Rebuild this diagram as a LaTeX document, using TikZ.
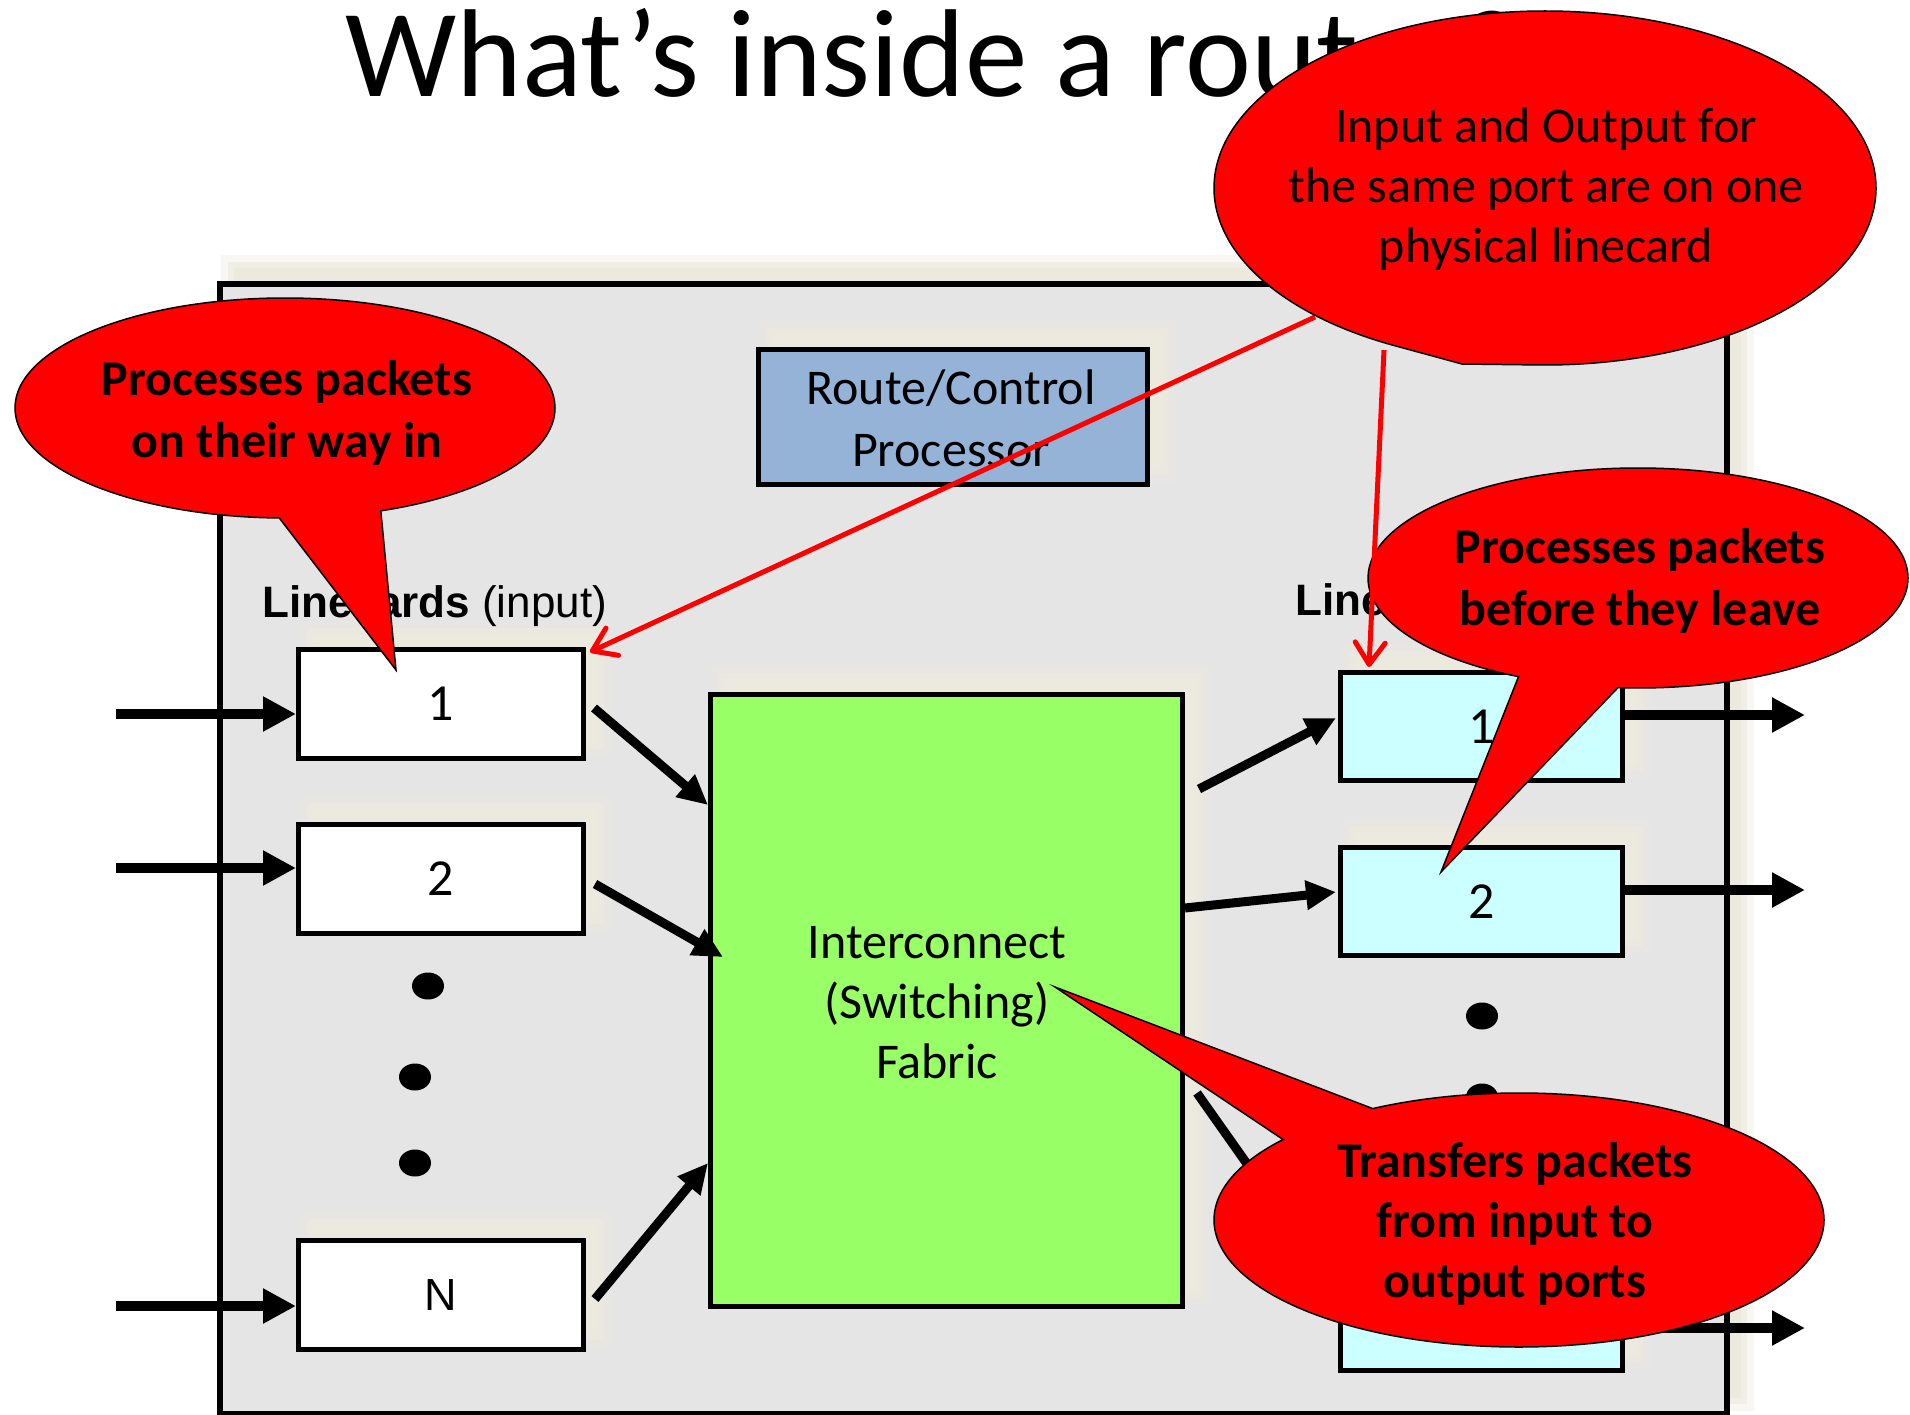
\documentclass[tikz,border=0pt]{standalone}
\usepackage{fontspec}
\setmainfont{Carlito}
\newfontfamily\arialf{Liberation Sans}
\usetikzlibrary{arrows.meta,shapes.geometric,shapes.callouts,calc}
\definecolor{chassisgray}{RGB}{229,229,229}
\definecolor{routeblue}{RGB}{149,179,215}
\definecolor{fabgreen}{RGB}{153,255,102}
\definecolor{outcyan}{RGB}{204,255,255}
\definecolor{glowc}{RGB}{236,234,222}
\definecolor{calred}{RGB}{255,0,0}
\begin{document}
\begin{tikzpicture}[x=1pt,y=-1pt,
  glow/.style={
    preaction={draw=glowc,line width=26pt,opacity=.35,transform canvas={xshift=14pt,yshift=16pt}},
    preaction={draw=glowc,line width=12pt,opacity=.6,transform canvas={xshift=14pt,yshift=16pt}},
    preaction={fill=glowc,transform canvas={xshift=14pt,yshift=16pt}}},
  box/.style={draw=black,line width=5pt,inner sep=0pt,glow},
  txt/.style={inner sep=0pt,anchor=base},
  dotn/.style={ellipse,fill=black,minimum width=32pt,minimum height=27pt,inner sep=0pt},
  bigarrow/.style={line width=10pt,-{Triangle[length=33pt,width=33pt]}},
  midarrow/.style={line width=9pt,-{Triangle[length=30pt,width=28pt]}},
  redarrow/.style={draw=calred,line width=5pt,-{Straight Barb[length=22pt,width=30pt,round]}},
  callout/.style={ellipse callout,draw=black,line width=1.5pt,fill=calred,inner sep=0pt}
]
\useasboundingbox (0,0) rectangle (1910,1415);
\fill[white] (0,0) rectangle (1910,1415);

% chassis
\node[box,line width=6pt,fill=chassisgray,minimum width=1507pt,minimum height=1130pt] (chassis) at (973.5,849) {};

% title
\node[txt,anchor=base west,font=\fontsize{125}{150}\selectfont] (title) at (345,97) {What’s inside a router?};

% route/control processor
\node[box,fill=routeblue,minimum width=389pt,minimum height=135pt] (route) at (953,417) {};
\node[txt,font=\fontsize{50}{62}\selectfont] (routetxt) at (951,404) {\begin{tabular}[t]{@{}c@{}}Route/Control\\Processor\end{tabular}};

% fabric
\node[box,fill=fabgreen,minimum width=472pt,minimum height=612pt] (fab) at (946.5,1000.5) {};
\node[txt,font=\fontsize{50}{60}\selectfont] (fabtxt) at (937,958) {\begin{tabular}[t]{@{}c@{}}Interconnect\\(Switching)\\Fabric\end{tabular}};

% input linecards
\node[box,fill=white,minimum width=285pt,minimum height=109pt,font=\fontsize{52}{60}\selectfont] (in1) at (441,704) {1};
\node[box,fill=white,minimum width=285pt,minimum height=109pt,font=\fontsize{52}{60}\selectfont] (in2) at (441,879) {2};
\node[box,fill=white,minimum width=285pt,minimum height=109pt,font=\arialf\fontsize{45}{54}\selectfont] (inN) at (441,1295) {N};

% output linecards
\node[box,fill=outcyan,minimum width=282pt,minimum height=108pt,font=\fontsize{52}{60}\selectfont] (out1) at (1481.5,726.5) {1};
\node[box,fill=outcyan,minimum width=282pt,minimum height=108pt,font=\fontsize{52}{60}\selectfont] (out2) at (1481.5,901.5) {2};
\node[box,fill=outcyan,minimum width=282pt,minimum height=108pt,font=\arialf\fontsize{45}{54}\selectfont] (outN) at (1481.5,1316.5) {N};

% labels
\node[txt,anchor=base west,font=\arialf\fontsize{44}{52}\selectfont] (lcin) at (262,617) {\textbf{Linecards} (input)};
\node[txt,anchor=base west,font=\arialf\fontsize{44}{52}\selectfont] (lcout) at (1295,615) {\textbf{Linecards} (output)};

% dots
\node[dotn] (dl1) at (428,986) {};
\node[dotn] (dl2) at (415,1077) {};
\node[dotn] (dl3) at (415,1163) {};
\node[dotn] (dr1) at (1482,1016) {};
\node[dotn] (dr2) at (1482,1097) {};

% external arrows
\coordinate (src1) at (116,714);
\coordinate (src2) at (116,868);
\coordinate (srcN) at (116,1306);
\draw[bigarrow] (src1) -- (src1 -| in1.west);
\draw[bigarrow] (src2) -- (src2 -| in2.west);
\draw[bigarrow] (srcN) -- (srcN -| inN.west);
\coordinate (dst1) at (1805,715);
\coordinate (dst2) at (1805,890);
\coordinate (dstN) at (1805,1328);
\draw[bigarrow] (dst1 -| out1.east) -- (dst1);
\draw[bigarrow] (dst2 -| out2.east) -- (dst2);
\draw[bigarrow] (dstN -| outN.east) -- (dstN);

% internal arrows
\draw[midarrow] ($(in1.east)+(8,4)$) -- ($(fab.north west)+(0,113)$);
\draw[midarrow] ($(in2.east)+(9,5)$) -- ($(fab.north west)+(15,265)$);
\draw[midarrow] ($(inN.east)+(9,4)$) -- ($(fab.north west)+(0,471)$);
\draw[midarrow] ($(fab.north east)+(14,97)$) -- ($(out1.north west)+(-2,48)$);
\draw[midarrow] ($(fab.north east)+(0,216)$) -- ($(out2.north west)+(-2,47)$);
\draw[midarrow] ($(fab.north east)+(12,401)$) -- ($(outN.north west)+(-2,30)$);

% callouts (lower ones)
\node[callout,minimum width=540pt,minimum height=220pt,callout absolute pointer={(396,670)},callout pointer arc=22] (cin) at (285,408) {};
\node[txt,font=\bfseries\fontsize{50}{62}\selectfont] (cintxt) at (287,395) {\begin{tabular}[t]{@{}c@{}}Processes packets\\on their way in\end{tabular}};

\node[callout,minimum width=540pt,minimum height=220pt,callout absolute pointer={(1441,872)},callout pointer arc=22] (cout) at (1638,578) {};
\node[txt,font=\bfseries\fontsize{50}{62}\selectfont] (couttxt) at (1640,563) {\begin{tabular}[t]{@{}c@{}}Processes packets\\before they leave\end{tabular}};

\node[callout,minimum width=610pt,minimum height=254pt,callout absolute pointer={(1055,987)},callout pointer arc=22] (cfab) at (1519,1220) {};
\node[txt,font=\bfseries\fontsize{50}{60}\selectfont] (cfabtxt) at (1515,1177) {\begin{tabular}[t]{@{}c@{}}Transfers packets\\from input to\\output ports\end{tabular}};

% red arrows
\coordinate (r1s) at (1315,317);
\coordinate (r2s) at (1384,350);
\draw[redarrow] (r1s) -- ($(in1.north east)+(4,5)$);
\draw[redarrow] (r2s) -- ($(out1.north west)+(31,-3)$);

% top-right callout
\node[callout,minimum width=662pt,minimum height=354pt,callout absolute pointer={(1462,364)},callout pointer arc=25] (cport) at (1545,188) {};
\node[txt,font=\fontsize{50}{60}\selectfont] (cporttxt) at (1546,143) {\begin{tabular}[t]{@{}c@{}}Input and Output for\\the same port are on one\\physical linecard\end{tabular}};
\end{tikzpicture}
\end{document}
